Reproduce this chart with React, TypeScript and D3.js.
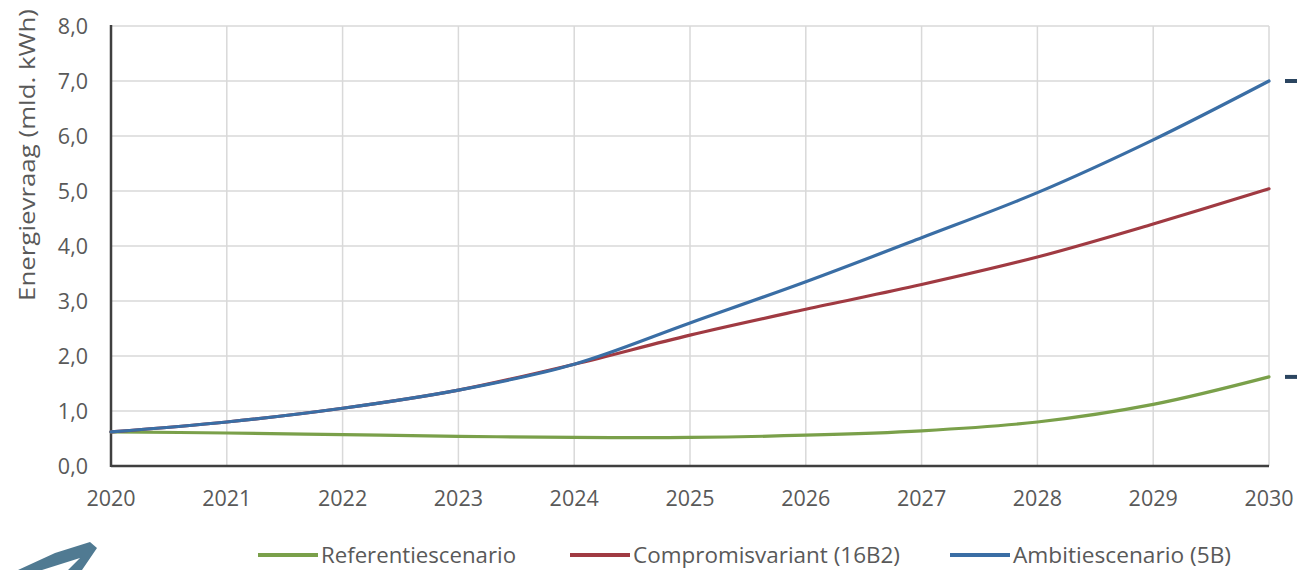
import React from "react";
import * as d3 from "d3";

const years = [2020, 2021, 2022, 2023, 2024, 2025, 2026, 2027, 2028, 2029, 2030];
const referentie = [0.62, 0.6, 0.57, 0.54, 0.52, 0.52, 0.56, 0.64, 0.8, 1.12, 1.62];
const compromis = [0.62, 0.8, 1.05, 1.38, 1.85, 2.38, 2.85, 3.3, 3.8, 4.4, 5.04];
const ambitie = [0.62, 0.8, 1.05, 1.38, 1.85, 2.6, 3.35, 4.15, 4.97, 5.93, 7.0];
const yTicks = [0, 1, 2, 3, 4, 5, 6, 7, 8];
const seriesNames = ["Referentiescenario", "Compromisvariant (16B2)", "Ambitiescenario (5B)"];
const seriesColors = ["#7aa04a", "#a03a42", "#3a6ea5"];

const W = 1297;
const H = 570;
const FONT = "'Open Sans', 'DejaVu Sans', sans-serif";

export default function App() {
  const x = d3.scaleLinear().domain([2020, 2030]).range([111, 1269]);
  const y = d3.scaleLinear().domain([0, 8]).range([466, 26]);
  const line = d3
    .line<number>()
    .x((_, i) => x(years[i]))
    .y((d) => y(d))
    .curve(d3.curveCatmullRom.alpha(0.5));
  const fmt = (v: number) => v.toFixed(1).replace(".", ",");
  const series = [referentie, compromis, ambitie];
  const legendX = [258, 570, 950];
  const legendW = [195, 267, 218];

  return (
    <svg
      width={W}
      height={H}
      style={{ position: "absolute", left: 0, top: 0, background: "#fff" }}
      fontFamily={FONT}
    >
      {/* grid */}
      {yTicks.map((t) => (
        <line key={"gy" + t} x1={x(2020)} x2={x(2030)} y1={y(t)} y2={y(t)} stroke="#d9d9d9" strokeWidth={1.5} />
      ))}
      {years.map((yr) => (
        <line key={"gx" + yr} x1={x(yr)} x2={x(yr)} y1={y(8)} y2={y(0)} stroke="#d9d9d9" strokeWidth={1.5} />
      ))}
      {/* axes */}
      <line x1={x(2020)} x2={x(2030)} y1={y(0)} y2={y(0)} stroke="#3f3f3f" strokeWidth={2.5} />
      <line x1={x(2020)} x2={x(2020)} y1={y(8) - 1} y2={y(0) + 1} stroke="#3f3f3f" strokeWidth={2.5} />
      {/* tick labels */}
      {yTicks.map((t) => (
        <text key={"ty" + t} x={88} y={y(t)} dy="0.35em" textAnchor="end" fontSize={21.5} fill="#595959">
          {fmt(t)}
        </text>
      ))}
      {years.map((yr) => (
        <text key={"tx" + yr} x={x(yr)} y={498} dy="0.35em" textAnchor="middle" fontSize={21.5} fill="#595959">
          {yr}
        </text>
      ))}
      <text
        transform={`translate(27,${155}) rotate(-90)`}
        textAnchor="middle"
        dy="0.35em"
        fontSize={22}
        fill="#595959"
        textLength={292}
        lengthAdjust="spacingAndGlyphs"
      >
        Energievraag  (mld. kWh)
      </text>
      {/* lines */}
      {series.map((s, i) => (
        <path key={"s" + i} d={line(s) || ""} fill="none" stroke={seriesColors[i]} strokeWidth={3.2} strokeLinecap="round" />
      ))}
      {/* right side markers */}
      {[ambitie[ambitie.length - 1], referentie[referentie.length - 1]].map((v, i) => (
        <line key={"m" + i} x1={1285} x2={1297} y1={y(v)} y2={y(v)} stroke="#2b4560" strokeWidth={4} />
      ))}
      {/* legend */}
      {seriesNames.map((n, i) => (
        <g key={"l" + i}>
          <line x1={legendX[i]} x2={legendX[i] + 60} y1={555} y2={555} stroke={seriesColors[i]} strokeWidth={4} />
          <text
            x={legendX[i] + 63}
            y={556}
            dy="0.35em"
            fontSize={21}
            fill="#595959"
            textLength={legendW[i]}
            lengthAdjust="spacingAndGlyphs"
          >
            {n}
          </text>
        </g>
      ))}
      {/* decorative arrow bottom-left */}
      <path d="M18,570 L55,553 L90,542 L97,548 L82,570 L68,570 L80,558 L42,570 Z" fill="#3d6b86" opacity={0.9} />
    </svg>
  );
}
